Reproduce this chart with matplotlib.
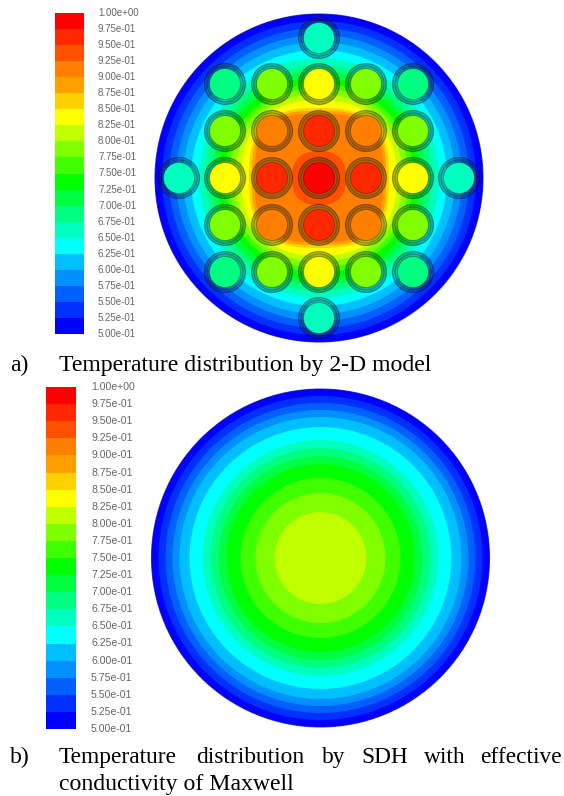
import numpy as np
import matplotlib
matplotlib.use('Agg')
import matplotlib.pyplot as plt
from matplotlib.patches import Circle

# Data
band_colors = ['#0000ff', '#0030ff', '#0060ff', '#0090ff', '#00bfff', '#00ffff', '#00ffbf',
               '#00ff80', '#00ff40', '#00ff00', '#40ff00', '#80ff00', '#bfff00', '#ffff00',
               '#ffd000', '#ffa000', '#ff7f00', '#ff5000', '#ff2800', '#ff0000']
level_labels = ['5.00e-01', '5.25e-01', '5.50e-01', '5.75e-01', '6.00e-01', '6.25e-01', '6.50e-01',
                '6.75e-01', '7.00e-01', '7.25e-01', '7.50e-01', '7.75e-01', '8.00e-01', '8.25e-01',
                '8.50e-01', '8.75e-01', '9.00e-01', '9.25e-01', '9.50e-01', '9.75e-01', '1.00e+00']
level_values = [float(s) for s in level_labels]

# 2-D model: outer radius of each band along the axes and along the diagonals
top_r_axis = [164, 157, 150, 143, 136, 128, 120, 113, 107, 101, 95, 90, 84, 78, 70, 67, 64, 27]
top_r_diag = [164, 157, 150, 143, 136, 128, 120, 113, 107, 101, 95, 91, 86, 82, 77, 75, 72, 29]

# SDH model: outer radius of each band
sdh_r = [169, 162, 155, 148, 141, 131, 118, 110, 102, 94, 80, 65, 46]

rod_x = [319,
         225, 272, 319, 366, 413,
         225, 272, 319, 366, 413,
         179, 225, 272, 319, 366, 413, 459,
         225, 272, 319, 366, 413,
         225, 272, 319, 366, 413,
         319]
rod_y = [38,
         84, 84, 84, 84, 84,
         131, 131, 131, 131, 131,
         178, 178, 178, 178, 178, 178, 178,
         225, 225, 225, 225, 225,
         272, 272, 272, 272, 272,
         318]
rod_band = [6,
            7, 11, 13, 11, 7,
            11, 16, 18, 16, 11,
            6, 13, 18, 19, 18, 13, 6,
            11, 16, 18, 16, 11,
            7, 11, 13, 11, 7,
            6]

fig = plt.figure(figsize=(5.64, 7.96), dpi=100)
ax = fig.add_axes([0, 0, 1, 1])
ax.set_xlim(0, 564)
ax.set_ylim(796, 0)
ax.axis('off')


def draw_legend(x0, x1, y_bottom, y_top, label_x, fontsize):
    scale = (y_top - y_bottom) / (level_values[-1] - level_values[0])
    for i, c in enumerate(band_colors):
        y0 = y_bottom + (level_values[i] - level_values[0]) * scale
        y1 = y_bottom + (level_values[i + 1] - level_values[0]) * scale
        ax.bar((x0 + x1) / 2, y1 - y0, width=x1 - x0, bottom=y0, color=c, linewidth=0)
    for v, s in zip(level_values, level_labels):
        ax.text(label_x, y_bottom + (v - level_values[0]) * scale, s, fontsize=fontsize,
                family='Liberation Sans', color='#666666', va='center', ha='left')


draw_legend(55, 84, 334, 13, 98, 7.0)
draw_legend(46, 76, 729, 387, 91, 7.6)

# 2-D model field
theta = np.linspace(0, 2 * np.pi, 361)
for i, (ra, rd) in enumerate(zip(top_r_axis, top_r_diag)):
    r = (ra + rd) / 2 - (rd - ra) / 2 * np.cos(4 * theta)
    ax.fill(319 + r * np.cos(theta), 178 + r * np.sin(theta), color=band_colors[i], linewidth=0)
ax.add_patch(Circle((319, 178), 164, fill=False, ec='#0000b0', lw=0.8, alpha=0.7))

# rods, the ring lets the field show through
for x, y, b in zip(rod_x, rod_y, rod_band):
    ax.add_patch(Circle((x, y), 20.5, fc=(0.15, 0.2, 0.15, 0.35), ec=(0, 0, 0, 0.35), lw=0.9))
    ax.add_patch(Circle((x, y), 18, fill=False, ec=(0, 0, 0, 0.25), lw=0.7))
    ax.add_patch(Circle((x, y), 15.5, fc=band_colors[b], ec=(0, 0, 0, 0.30), lw=0.7))

# SDH field
for i, r in enumerate(sdh_r):
    ax.add_patch(Circle((320.5, 558), r, fc=band_colors[i], ec='none'))
ax.add_patch(Circle((320.5, 558), 169, fill=False, ec='#0000b0', lw=0.8, alpha=0.7))

# captions
cap = dict(family='Liberation Serif', fontsize=17.1, color='black', va='baseline', ha='left')
ax.text(10, 371, 'a)', **cap)
ax.text(59, 371, 'Temperature distribution by 2-D model', **cap)
ax.text(10, 763, 'b)', **cap)
for x, word in zip([59, 196, 322, 361, 424, 480],
                   ['Temperature', 'distribution', 'by', 'SDH', 'with', 'effective']):
    ax.text(x, 763, word, **{**cap, 'fontsize': 16.8})
ax.text(59, 790, 'conductivity of Maxwell', **cap)

fig.savefig('out.png', dpi=100)
